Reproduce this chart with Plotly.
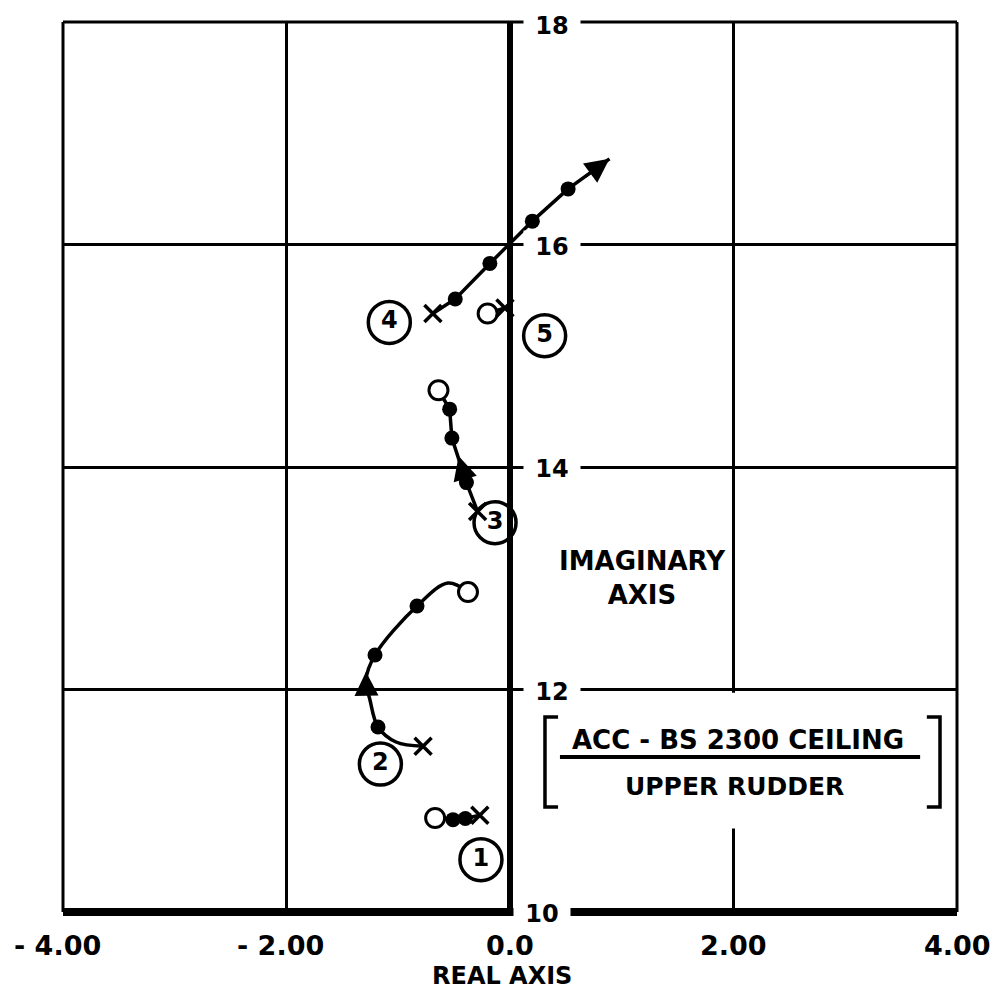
import plotly.graph_objects as go

# ---------------- data (real, imaginary) ----------------
# Branch 1
b1_path_re = [-0.67, -0.51, -0.40, -0.27]
b1_path_im = [10.845, 10.83, 10.84, 10.87]
b1_dot_re = [-0.51, -0.40]
b1_dot_im = [10.83, 10.84]
b1_open_re, b1_open_im = [-0.67], [10.845]
b1_x_re, b1_x_im = [-0.27], [10.87]

# Branch 2
b2_path_re = [-0.376, -0.555, -0.832, -1.208, -1.289, -1.253, -1.181, -1.02, -0.778]
b2_path_im = [12.876, 12.957, 12.75, 12.31, 12.085, 11.906, 11.663, 11.528, 11.49]
b2_dot_re = [-0.832, -1.208, -1.181]
b2_dot_im = [12.75, 12.31, 11.663]
b2_open_re, b2_open_im = [-0.376], [12.876]
b2_x_re, b2_x_im = [-0.778], [11.49]

# Branch 3
b3_path_re = [-0.64, -0.54, -0.52, -0.447, -0.39, -0.29]
b3_path_im = [14.69, 14.52, 14.26, 14.04, 13.86, 13.60]
b3_dot_re = [-0.54, -0.52, -0.39]
b3_dot_im = [14.52, 14.26, 13.86]
b3_open_re, b3_open_im = [-0.64], [14.69]
b3_x_re, b3_x_im = [-0.29], [13.60]

# Branch 4
b4_path_re = [-0.69, -0.49, -0.18, 0.20, 0.52, 0.89]
b4_path_im = [15.38, 15.51, 15.83, 16.21, 16.50, 16.77]
b4_dot_re = [-0.49, -0.18, 0.20, 0.52]
b4_dot_im = [15.51, 15.83, 16.21, 16.50]
b4_x_re, b4_x_im = [-0.69], [15.38]

# Branch 5
b5_path_re = [-0.20, -0.045]
b5_path_im = [15.38, 15.43]
b5_open_re, b5_open_im = [-0.20], [15.38]
b5_x_re, b5_x_im = [-0.045], [15.43]

# direction arrows: (tail_re, tail_im, tip_re, tip_im)
arrow_tail_re = [0.66, -1.285, -0.42]
arrow_tail_im = [16.60, 11.98, 13.96]
arrow_tip_re = [0.89, -1.289, -0.46]
arrow_tip_im = [16.77, 12.16, 14.10]

# circled branch numbers
label_text = ["1", "2", "3", "4", "5"]
label_re = [-0.26, -1.16, -0.134, -1.08, 0.31]
label_im = [10.47, 11.33, 13.50, 15.30, 15.18]

# axis tick labels
x_tick_vals = [-4, -2, 0, 2, 4]
x_tick_text = ["- 4.00", "- 2.00", "0.0", "2.00", "4.00"]
y_tick_vals = [18, 16, 14, 12, 10]
y_tick_text = ["18", "16", "14", "12", "10"]

FONT = "DejaVu Sans"

fig = go.Figure()

paths = [
    (b1_path_re, b1_path_im, "linear"),
    (b2_path_re, b2_path_im, "spline"),
    (b3_path_re, b3_path_im, "linear"),
    (b4_path_re, b4_path_im, "linear"),
    (b5_path_re, b5_path_im, "linear"),
]
for re, im, shp in paths:
    fig.add_trace(go.Scatter(x=re, y=im, mode="lines",
                             line=dict(color="black", width=3.5, shape=shp),
                             hoverinfo="skip", showlegend=False))

dots_re = b1_dot_re + b2_dot_re + b3_dot_re + b4_dot_re
dots_im = b1_dot_im + b2_dot_im + b3_dot_im + b4_dot_im
fig.add_trace(go.Scatter(x=dots_re, y=dots_im, mode="markers",
                         marker=dict(symbol="circle", size=15, color="black"),
                         showlegend=False))

open_re = b1_open_re + b2_open_re + b3_open_re + b5_open_re
open_im = b1_open_im + b2_open_im + b3_open_im + b5_open_im
fig.add_trace(go.Scatter(x=open_re, y=open_im, mode="markers",
                         marker=dict(symbol="circle", size=19, color="white",
                                     line=dict(color="black", width=3)),
                         showlegend=False))

x_re = b1_x_re + b2_x_re + b3_x_re + b4_x_re + b5_x_re
x_im = b1_x_im + b2_x_im + b3_x_im + b4_x_im + b5_x_im
fig.add_trace(go.Scatter(x=x_re, y=x_im, mode="markers",
                         marker=dict(symbol="x-thin-open", size=17, color="black",
                                     line=dict(color="black", width=3.5)),
                         showlegend=False))

fig.add_trace(go.Scatter(x=label_re, y=label_im, mode="markers+text",
                         text=["<b>%s</b>" % t for t in label_text],
                         textposition="middle center",
                         textfont=dict(family=FONT, size=24, color="black"),
                         marker=dict(symbol="circle", size=42, color="rgba(255,255,255,0)",
                                     line=dict(color="black", width=3.5)),
                         showlegend=False))

annotations = []
for tr, ti, hr, hi in zip(arrow_tail_re, arrow_tail_im, arrow_tip_re, arrow_tip_im):
    annotations.append(dict(x=hr, y=hi, ax=tr, ay=ti, xref="x", yref="y",
                            axref="x", ayref="y", text="", showarrow=True,
                            arrowhead=2, arrowsize=1.6, arrowwidth=3,
                            arrowcolor="black"))

for v, t in zip(y_tick_vals, y_tick_text):
    annotations.append(dict(x=0, y=v, xref="x", yref="y", xanchor="left",
                            yanchor="middle", xshift=3 if v == 10 else 13,
                            yshift=-4 if v == 18 else -2,
                            text="<b>%s</b>" % t, showarrow=False,
                            width=52, align="center", bgcolor="white",
                            borderpad=2,
                            font=dict(family=FONT, size=24, color="black")))

for v, t in zip(x_tick_vals, x_tick_text):
    annotations.append(dict(x=v, y=10, xref="x", yref="y", xanchor="center",
                            yanchor="middle", yshift=-33,
                            xshift=-6 if t.startswith("-") else 0,
                            text="<b>%s</b>" % t, showarrow=False,
                            font=dict(family=FONT, size=27, color="black")))

annotations.append(dict(x=-0.07, y=10, xref="x", yref="y", yanchor="middle",
                        yshift=-64, text="<b>REAL AXIS</b>", showarrow=False,
                        font=dict(family=FONT, size=24, color="black")))
annotations.append(dict(x=1.19, y=13.0, xref="x", yref="y", yanchor="middle",
                        text="<b>IMAGINARY<br>AXIS</b>", showarrow=False,
                        bgcolor="white",
                        font=dict(family=FONT, size=26, color="black")))
annotations.append(dict(x=2.04, y=11.546, xref="x", yref="y", yanchor="middle",
                        text="<b>ACC - BS 2300 CEILING</b>", showarrow=False,
                        font=dict(family=FONT, size=26, color="black")))
annotations.append(dict(x=2.01, y=11.124, xref="x", yref="y", yanchor="middle",
                        text="<b>UPPER RUDDER</b>", showarrow=False,
                        font=dict(family=FONT, size=25, color="black")))

shapes = [
    # white patch behind the boxed caption
    dict(type="rect", xref="x", yref="y", x0=1.8, x1=2.2, y0=10.75, y1=11.97,
         fillcolor="white", line=dict(width=0), layer="between"),
    # frame
    dict(type="line", xref="paper", yref="paper", x0=0, x1=0, y0=0, y1=1,
         line=dict(color="black", width=3), layer="between"),
    dict(type="line", xref="paper", yref="paper", x0=1, x1=1, y0=0, y1=1,
         line=dict(color="black", width=3), layer="between"),
    dict(type="line", xref="paper", yref="paper", x0=0, x1=1, y0=1, y1=1,
         line=dict(color="black", width=3), layer="between"),
    dict(type="line", xref="paper", yref="paper", x0=0, x1=1, y0=0, y1=0,
         line=dict(color="black", width=8), layer="between"),
    # brackets and fraction bar
    dict(type="path", xref="x", yref="y",
         path="M 0.43,11.753 L 0.313,11.753 L 0.313,10.944 L 0.43,10.944",
         line=dict(color="black", width=3.5), layer="above"),
    dict(type="path", xref="x", yref="y",
         path="M 3.73,11.753 L 3.848,11.753 L 3.848,10.944 L 3.73,10.944",
         line=dict(color="black", width=3.5), layer="above"),
    dict(type="line", xref="x", yref="y", x0=0.447, x1=3.67, y0=11.393, y1=11.393,
         line=dict(color="black", width=4), layer="above"),
]

fig.update_layout(
    width=995, height=994,
    margin=dict(l=63, r=38, t=22, b=82),
    paper_bgcolor="white", plot_bgcolor="white",
    showlegend=False,
    annotations=annotations,
    shapes=shapes,
    xaxis=dict(range=[-4, 4], tick0=0, dtick=2, showgrid=True, gridcolor="black",
               gridwidth=2.5, zeroline=True, zerolinecolor="black", zerolinewidth=6,
               showline=False, showticklabels=False, ticks="", fixedrange=True),
    yaxis=dict(range=[10, 18], tick0=10, dtick=2, showgrid=True, gridcolor="black",
               gridwidth=2.5, zeroline=False, showline=False, showticklabels=False,
               ticks="", fixedrange=True),
)

fig.write_html("out.html")
